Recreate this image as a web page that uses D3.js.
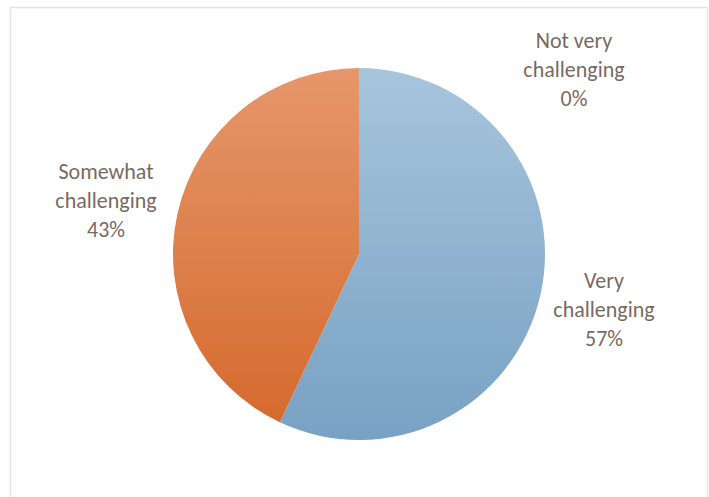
<!DOCTYPE html>
<html lang="en">
<head>
  <meta charset="UTF-8">
  <title>pie</title>
  <style>
    body { margin: 0; background: #fff; }
  </style>
</head>
<body>
<script src="https://cdn.jsdelivr.net/npm/d3@7"></script>
<script>
  var categories = ['Very challenging', 'Somewhat challenging', 'Not very challenging']
  var values = [57, 43, 0]
  var labelLines = [['Very', 'challenging', '57%'], ['Somewhat', 'challenging', '43%'], ['Not very', 'challenging', '0%']]

  var width = 709
  var height = 497
  var cx = 359, cy = 254, r = 186

  var svg = d3.select('body').append('svg')
    .attr('width', width)
    .attr('height', height)

  // chart frame
  svg.append('rect')
    .attr('x', 10.5).attr('y', 7.5)
    .attr('width', 697).attr('height', 500)
    .attr('fill', '#fff')
    .attr('stroke', '#e8e3e0')
    .attr('stroke-width', 1.5)

  var defs = svg.append('defs')
  var grads = [['#a7c5dd', '#78a1c3'], ['#e6976b', '#d4682b'], ['#aaaaaa', '#888888']]
  grads.forEach((g, i) => {
    var lg = defs.append('linearGradient')
      .attr('id', 'g' + i)
      .attr('gradientUnits', 'userSpaceOnUse')
      .attr('x1', 0).attr('y1', -r).attr('x2', 0).attr('y2', r)
    lg.append('stop').attr('offset', '0%').attr('stop-color', g[0])
    lg.append('stop').attr('offset', '100%').attr('stop-color', g[1])
  })

  var pie = d3.pie().sort(null).value(d => d)
  var arc = d3.arc().innerRadius(0).outerRadius(r)

  var g = svg.append('g').attr('transform', `translate(${cx},${cy})`)
  g.selectAll('path')
    .data(pie(values))
    .enter()
    .append('path')
    .attr('d', arc)
    .attr('fill', (d, i) => `url(#g${i})`)

  // label positions (top line baseline)
  var labelPos = [[604, 288], [106, 179], [574, 48]]
  var lineH = 29

  svg.append('g').selectAll('text')
    .data(labelLines)
    .enter()
    .append('text')
    .attr('text-anchor', 'middle')
    .attr('font-family', 'Carlito, Lato, "Open Sans", sans-serif')
    .attr('font-size', 22)
    .attr('fill', '#786a62')
    .each(function (lines, i) {
      d3.select(this).selectAll('tspan')
        .data(lines)
        .enter()
        .append('tspan')
        .attr('x', labelPos[i][0])
        .attr('y', (l, j) => labelPos[i][1] + j * lineH)
        .text(l => l)
    })
</script>
</body>
</html>
